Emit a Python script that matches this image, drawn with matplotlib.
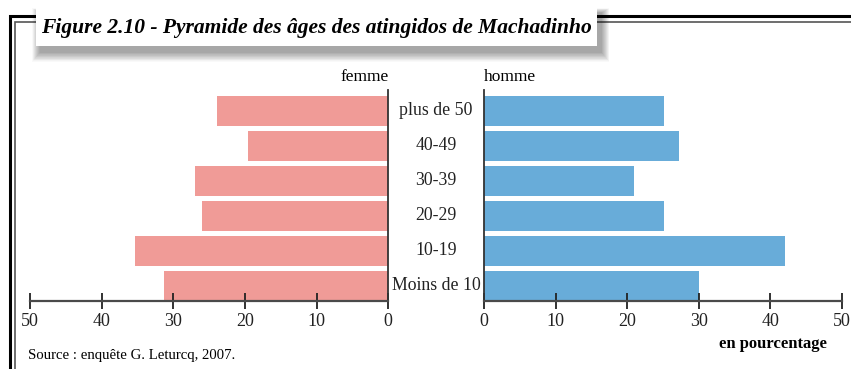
import matplotlib
matplotlib.use("Agg")
import matplotlib.pyplot as plt
from matplotlib.patches import Rectangle
from matplotlib.transforms import blended_transform_factory
import numpy as np

# --- Data (percent of each sex per age group, bottom to top) ---
age_groups = ["Moins de 10", "10-19", "20-29", "30-39", "40-49", "plus de 50"]
femme = [31.3, 35.3, 26.0, 27.0, 19.6, 23.9]
homme = [30.0, 42.1, 25.1, 21.0, 27.2, 25.1]
ticks = [0, 10, 20, 30, 40, 50]

pink = "#F09B97"
blue = "#68ACD9"
axis_col = "#4a4a4a"

plt.rcParams['font.family'] = ['Liberation Serif', 'DejaVu Serif']

W, H = 851, 369
fig = plt.figure(figsize=(W / 100, H / 100), dpi=100)

# background layer in pixel coordinates for frame, title box and notes
bg = fig.add_axes([0, 0, 1, 1])
bg.set_xlim(0, W)
bg.set_ylim(H, 0)
bg.axis("off")

# double frame line (top and left)
bg.plot([10, 10, W], [H, 16, 16], color="black", lw=2.2, solid_joinstyle="miter", zorder=1)
bg.plot([15, 15, W], [H, 22, 22], color="#555555", lw=1.2, solid_joinstyle="miter", zorder=1)

# soft shadow under the title box
for i in range(16):
    g = 1 + i
    bg.add_patch(Rectangle((36 + 4 - g * 0.5, 7 + 6 - g * 0.3), 561 + g, 39 + g * 0.9,
                           facecolor="black", edgecolor="none", alpha=0.022, zorder=2))
bg.add_patch(Rectangle((36, 7), 561, 39, facecolor="white", edgecolor="none", zorder=3))
bg.text(41, 28, "Figure 2.10 - Pyramide des âges des atingidos de Machadinho",
        fontsize=15.5, fontweight="bold", fontstyle="italic", va="center", ha="left", zorder=4)

bg.text(28, 356, "Source : enquête G. Leturcq, 2007.", fontsize=10.6, va="center", ha="left")
bg.text(773, 344, "en pourcentage", fontsize=12, fontweight="bold", va="center", ha="center")

# pyramid halves
bottom = 1 - 300.7 / H
top = 1 - 90 / H
ax_l = fig.add_axes([30 / W, bottom, (388.3 - 30) / W, top - bottom])
ax_r = fig.add_axes([484.2 / W, bottom, (842 - 484.2) / W, top - bottom])

y = np.arange(len(age_groups))
ax_l.barh(y, femme, height=0.85, color=pink)
ax_r.barh(y, homme, height=0.85, color=blue)

ax_l.set_xlim(50, 0)
ax_r.set_xlim(0, 50)

for ax, zero_side in ((ax_l, "right"), (ax_r, "left")):
    ax.patch.set_alpha(0)
    ax.set_ylim(-0.425, 5.6)
    ax.set_yticks([])
    ax.set_xticks(ticks)
    ax.tick_params(axis="x", direction="inout", length=11, width=1.3, color="#222222",
                   labelsize=13, pad=3, labelcolor="#222222")
    for side in ("top", "left", "right"):
        ax.spines[side].set_visible(False)
    ax.spines["bottom"].set_color(axis_col)
    ax.spines["bottom"].set_linewidth(1.6)
    ax.spines[zero_side].set_visible(True)
    ax.spines[zero_side].set_color("#333333")
    ax.spines[zero_side].set_linewidth(1.3)

# age group labels between the halves
tr = blended_transform_factory(fig.transFigure, ax_l.transData)
for yi, lab in zip(y, age_groups):
    ax_l.text(436 / W, yi, lab, transform=tr, ha="center", va="center",
              fontsize=12.8, color="#222222", clip_on=False)

ax_l.text(1, 1.06, "femme", transform=ax_l.transAxes, ha="right", va="center", fontsize=12.5)
ax_r.text(0, 1.06, "homme", transform=ax_r.transAxes, ha="left", va="center", fontsize=12.5)

fig.savefig("out.png", dpi=100)
